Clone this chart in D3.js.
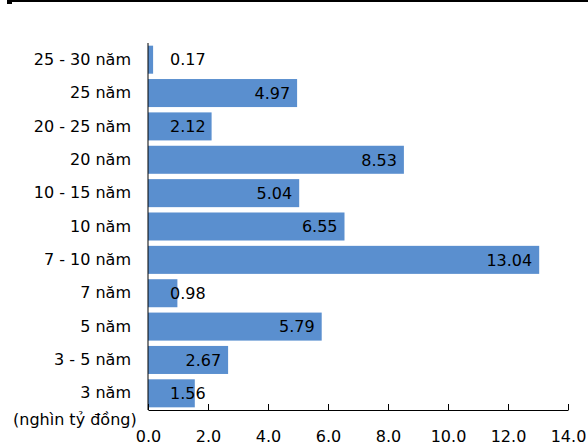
<!DOCTYPE html>
<html>
<head>
<meta charset="utf-8">
<script src="https://cdn.jsdelivr.net/npm/d3@7"></script>
<style>
  html, body { margin: 0; padding: 0; background: #fff; }
  svg { display: block; }
  text { font-family: "DejaVu Sans", Verdana, sans-serif; fill: #000; }
</style>
</head>
<body>
<svg id="chart" width="588" height="446"></svg>
<script>
// Kỳ hạn trái phiếu (top to bottom) and phát hành value (nghìn tỷ đồng)
const categories = ["25 - 30 năm", "25 năm", "20 - 25 năm", "20 năm", "10 - 15 năm",
                    "10 năm", "7 - 10 năm", "7 năm", "5 năm", "3 - 5 năm", "3 năm"];
const values = [0.17, 4.97, 2.12, 8.53, 5.04, 6.55, 13.04, 0.98, 5.79, 2.67, 1.56];
const xTicks = [0, 2, 4, 6, 8, 10, 12, 14];
const unitLabel = "(nghìn tỷ đồng)";

const svg = d3.select("#chart");
const fontSize = 16;

// Header rule
svg.append("rect").attr("x", 7).attr("y", 0).attr("width", 581).attr("height", 2).attr("fill", "#000");
svg.append("rect").attr("x", 7).attr("y", 0).attr("width", 5).attr("height", 4).attr("fill", "#000");

const x = d3.scaleLinear().domain([0, 14]).range([148, 568]);
const y = d3.scaleBand().domain(categories).range([43, 410]).paddingInner(0.16).paddingOuter(0.08);

const rows = categories.map((c, i) => ({ c, v: values[i] }));

// Bars
svg.append("g").selectAll("rect")
  .data(rows)
  .join("rect")
  .attr("x", x(0))
  .attr("y", d => y(d.c))
  .attr("width", d => x(d.v) - x(0))
  .attr("height", y.bandwidth())
  .attr("fill", "#5a8fcf");

// Value labels at the inner end of each bar, kept clear of the axis
const labels = svg.append("g").selectAll("text")
  .data(rows)
  .join("text")
  .attr("y", d => y(d.c) + y.bandwidth() / 2)
  .attr("dy", "0.36em")
  .attr("font-size", fontSize)
  .attr("text-anchor", "end")
  .text(d => d.v.toFixed(2));
labels.attr("x", function(d) {
  const w = this.getComputedTextLength();
  return Math.max(x(d.v) - 7, x(0) + 22 + w);
});

// Category axis
const yAxis = svg.append("g")
  .attr("transform", `translate(${x(0)},0)`)
  .call(d3.axisLeft(y).tickSize(0).tickPadding(17));
yAxis.select(".domain").attr("stroke", "#000").attr("d", `M0,43V410`);
yAxis.selectAll("text").attr("font-size", fontSize).attr("font-family", "DejaVu Sans, Verdana, sans-serif");

// Value axis with inward ticks
const xAxis = svg.append("g")
  .attr("transform", "translate(0,410)")
  .call(d3.axisBottom(x).tickValues(xTicks).tickFormat(d3.format(".1f")).tickSizeInner(-6).tickSizeOuter(0).tickPadding(21));
xAxis.select(".domain").attr("stroke", "#000");
xAxis.selectAll(".tick line").attr("stroke", "#000");
xAxis.selectAll("text").attr("font-size", fontSize).attr("font-family", "DejaVu Sans, Verdana, sans-serif");

// Unit caption
svg.append("text")
  .attr("x", 13).attr("y", 419).attr("dy", "0.36em")
  .attr("font-size", fontSize)
  .text(unitLabel);
</script>
</body>
</html>
